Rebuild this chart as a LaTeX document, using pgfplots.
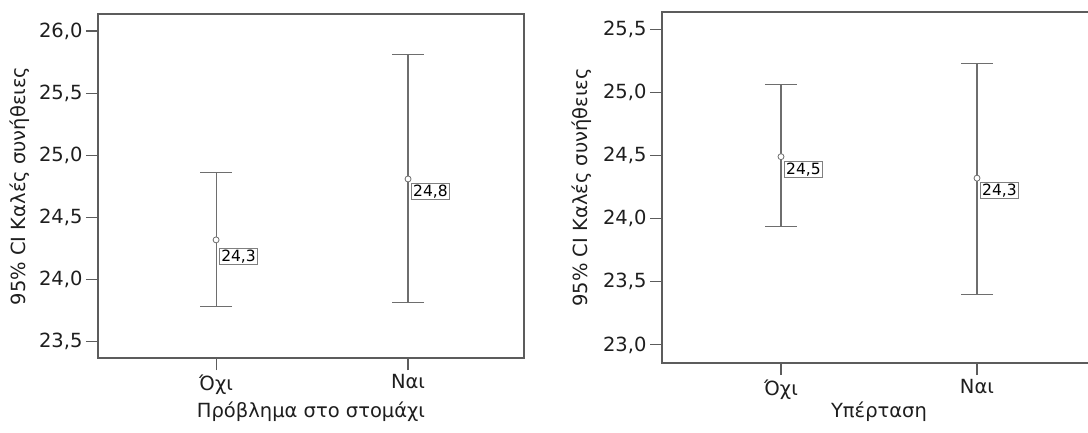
\documentclass[border=0pt]{standalone}
\usepackage{pgfplots}
\pgfplotsset{compat=1.18}
\usepackage{fontspec}
\setmainfont{DejaVu Sans}
\definecolor{axc}{HTML}{5C5C5C}
\definecolor{ebc}{HTML}{6E6E6E}
\definecolor{txc}{HTML}{1E1E1E}
\pgfplotsset{
  spss/.style={
    scale only axis,
    anchor=south west,
    xtick={0,1}, xticklabels={Όχι,Ναι},
    axis line style={axc, line width=1.1pt},
    tick style={axc, line width=1.1pt},
    major tick length=12pt,
    tick align=outside,
    xtick pos=bottom, ytick pos=left,
    ticklabel style={font=\fontsize{19.5}{23}\selectfont, text=txc},
    xticklabel style={yshift=-1pt},
    yticklabel style={/pgf/number format/fixed, /pgf/number format/fixed zerofill, /pgf/number format/precision=1, /pgf/number format/use comma, /pgf/number format/assume math mode=true},
    clip=false,
  },
  ci/.style 2 args={
    only marks, mark=*, mark size=3pt,
    mark options={fill=white, draw=ebc, line width=0.8pt},
    point meta=explicit symbolic,
    nodes near coords,
    every node near coord/.append style={anchor=north west, draw=gray, fill=white, line width=0.8pt,
      inner sep=1.8pt, text height=11.3pt, text depth=1pt, text=black,
      font=\fontsize{15.5}{18}\selectfont, xshift=#1, yshift=#2},
    error bars/.cd, y dir=both, y explicit,
    error bar style={ebc, line width=1.1pt},
    error mark options={ebc, line width=1.1pt, mark size=16pt, rotate=90},
  },
}
\begin{document}
\begin{tikzpicture}
\path[use as bounding box] (0pt,0pt) rectangle (1088pt,432pt);
\begin{axis}[spss,
  at={(98pt,74pt)}, width=426pt, height=344pt,
  xmin=-0.615, xmax=1.604, ymin=23.37, ymax=26.137,
  ytick={23.5,24,24.5,25,25.5,26},
  xlabel={Πρόβλημα στο στομάχι},
  ylabel={95\% CI Καλές συνήθειες},
  every axis x label/.style={at={(axis description cs:0.5,-0.157)}, anchor=center, font=\fontsize{19.5}{23}\selectfont, text=txc},
  every axis y label/.style={at={(axis description cs:-0.183,0.5)}, rotate=90, anchor=center, font=\fontsize{19.5}{23}\selectfont, text=txc},
]
\addplot+[ci={3pt}{-8pt}] table[x=x, y=y, y error plus=ep, y error minus=em, meta=lab] {
x y ep em lab
0 24.32 0.545 0.535 24,3
};
\addplot+[ci={3pt}{-4pt}] table[x=x, y=y, y error plus=ep, y error minus=em, meta=lab] {
x y ep em lab
1 24.81 1.00 0.99 24,8
};
\end{axis}
\begin{axis}[spss,
  at={(662pt,69pt)}, width=434pt, height=351pt,
  xmin=-0.607, xmax=1.607, ymin=22.857, ymax=25.635,
  ytick={23,23.5,24,24.5,25,25.5},
  xlabel={Υπέρταση},
  ylabel={95\% CI Καλές συνήθειες},
  every axis x label/.style={at={(axis description cs:0.5,-0.14)}, anchor=center, font=\fontsize{19.5}{23}\selectfont, text=txc},
  every axis y label/.style={at={(axis description cs:-0.184,0.5)}, rotate=90, anchor=center, font=\fontsize{19.5}{23}\selectfont, text=txc},
]
\addplot+[ci={3pt}{-4pt}] table[x=x, y=y, y error plus=ep, y error minus=em, meta=lab] {
x y ep em lab
0 24.49 0.57 0.55 24,5
};
\addplot+[ci={3pt}{-4pt}] table[x=x, y=y, y error plus=ep, y error minus=em, meta=lab] {
x y ep em lab
1 24.32 0.91 0.92 24,3
};
\end{axis}
\end{tikzpicture}
\end{document}
